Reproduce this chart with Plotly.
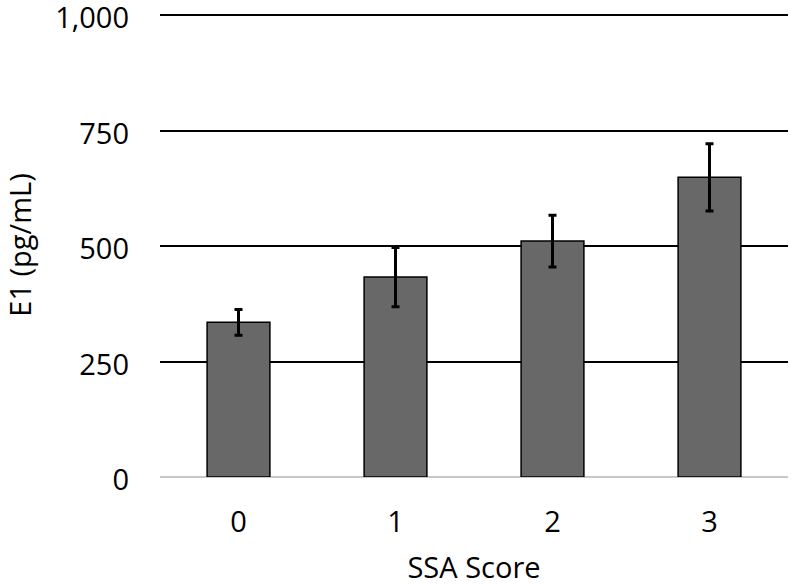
import plotly.graph_objects as go

categories = ["0", "1", "2", "3"]
e1_means = [335, 433, 511, 649]
e1_errors = [28, 64, 56, 73]
y_ticks = [0, 250, 500, 750, 1000]
y_tick_text = ["0", "250", "500", "750", "1,000"]

FONT = "Open Sans"
FS = 29

fig = go.Figure(
    go.Bar(
        x=categories,
        y=e1_means,
        width=0.4,
        marker=dict(color="#686868", line=dict(color="black", width=1.5)),
        error_y=dict(type="data", array=e1_errors, visible=True,
                     color="black", thickness=3, width=4),
    )
)

fig.update_layout(
    width=792, height=586,
    margin=dict(l=160, r=4, t=13, b=109, autoexpand=False),
    plot_bgcolor="white", paper_bgcolor="white",
    font=dict(family=FONT, size=FS, color="black"),
    showlegend=False,
    bargap=0.6,
)

fig.update_xaxes(
    type="category",
    automargin=False,
    showgrid=False,
    showline=False,
    ticks="",
    ticklabelstandoff=25,
    ticklabeloverflow="allow",
    tickfont=dict(size=FS),
    title=dict(text="SSA Score", font=dict(size=FS), standoff=32),
)

fig.update_yaxes(
    range=[0, 1005],
    automargin=False,
    tickmode="array",
    tickvals=y_ticks,
    ticktext=y_tick_text,
    showgrid=True, gridcolor="black", gridwidth=2,
    zeroline=True, zerolinecolor="#c8c8c8", zerolinewidth=2,
    showline=False,
    ticks="",
    ticklabelstandoff=30,
    ticklabelshift=3,
    ticklabeloverflow="allow",
    tickfont=dict(size=FS),
    title=dict(text="E1 (pg/mL)", font=dict(size=FS), standoff=36),
)

fig.write_html(
    "out.html",
    config={"displayModeBar": False},
    post_script="document.body.style.margin='0';document.body.style.overflow='hidden';",
)
